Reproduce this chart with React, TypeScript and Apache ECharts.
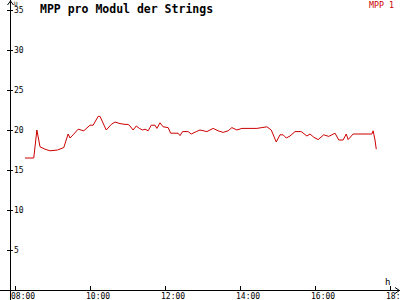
import React, { useEffect, useRef } from "react";
import * as echarts from "echarts";

const times: string[] = [
  "08:16", "08:30", "08:35", "08:40", "08:48", "08:56", "09:08", "09:18", "09:25", "09:28",
  "09:33", "09:41", "09:50", "10:00", "10:05", "10:13", "10:16", "10:26", "10:34", "10:40",
  "10:48", "10:56", "11:01", "11:04", "11:09", "11:14", "11:19", "11:24", "11:28", "11:33",
  "11:38", "11:44", "11:47", "11:52", "11:57", "12:05", "12:09", "12:21", "12:24", "12:28",
  "12:37", "12:42", "12:50", "12:56", "13:07", "13:17", "13:25", "13:33", "13:41", "13:47",
  "13:55", "14:03", "14:27", "14:35", "14:43", "14:50", "14:58", "15:04", "15:09", "15:14",
  "15:20", "15:28", "15:38", "15:47", "15:52", "15:58", "16:05", "16:14", "16:22", "16:32",
  "16:38", "16:45", "16:50", "16:53", "17:01", "17:31", "17:33", "17:36", "17:38",
];
const mpp1: number[] = [
  16.5, 16.5, 20.0, 17.9, 17.6, 17.4, 17.5, 17.8, 19.5, 19.0,
  19.4, 20.1, 19.9, 20.6, 20.6, 21.7, 21.7, 20.0, 20.7, 21.0,
  20.8, 20.7, 20.7, 20.5, 20.0, 20.5, 20.2, 20.0, 20.1, 19.9,
  20.6, 20.6, 20.2, 20.9, 20.4, 20.3, 19.6, 19.6, 19.3, 19.8,
  19.8, 19.5, 19.8, 20.0, 19.8, 20.2, 19.9, 19.7, 19.9, 20.3,
  20.0, 20.2, 20.2, 20.3, 20.4, 20.0, 18.5, 19.4, 19.4, 19.0,
  19.25, 19.8, 19.8, 19.25, 19.5, 19.1, 18.8, 19.4, 19.2, 19.6,
  18.75, 18.75, 19.5, 18.8, 19.5, 19.5, 19.9, 18.75, 17.6,
];
const seriesName = "MPP 1";
const titleText = "MPP pro Modul der Strings";
const yUnit = "U";
const xUnit = "h";

const toMin = (t: string) => {
  const [h, m] = t.split(":").map(Number);
  return h * 60 + m;
};
const fmt = (v: number) => {
  const h = Math.floor(v / 60);
  const m = v % 60;
  return String(h).padStart(2, "0") + ":" + String(m).padStart(2, "0");
};

const FONT = "DejaVu Sans Mono";

export default function App() {
  const ref = useRef<HTMLDivElement>(null);
  useEffect(() => {
    if (!ref.current) return;
    const chart = echarts.init(ref.current, undefined, { renderer: "svg" });
    const yBase = {
      type: "value" as const,
      min: 0,
      max: 35,
      interval: 5,
      offset: 5,
      axisLine: { show: false },
      splitLine: { show: false },
    };
    chart.setOption({
      animation: false,
      backgroundColor: "#ffffff",
      title: {
        text: titleText,
        left: 40,
        top: 3,
        padding: 0,
        textStyle: { fontFamily: FONT, fontSize: 11.5, fontWeight: "bold", color: "#000" },
      },
      legend: {
        right: 6,
        top: 1,
        padding: 0,
        icon: "none",
        itemWidth: 0,
        itemHeight: 0,
        itemGap: 0,
        textStyle: { fontFamily: FONT, fontSize: 8.3, color: "#cc0000" },
        data: [seriesName],
      },
      grid: {
        left: 15,
        right: 10,
        top: 10,
        bottom: 10,
        containLabel: false,
        outerBoundsMode: "none",
      },
      xAxis: {
        type: "value",
        min: 480,
        max: 1080,
        interval: 120,
        axisLine: { show: false },
        splitLine: { show: false },
        axisTick: { show: true, inside: true, length: 4, lineStyle: { color: "#000" } },
        axisLabel: {
          formatter: (v: number) => fmt(v),
          fontFamily: FONT,
          fontSize: 8,
          color: "#000",
          align: "left",
          margin: 2,
          padding: [0, 0, 0, -4],
          showMaxLabel: true,
          hideOverlap: false,
        },
      },
      yAxis: [
        {
          ...yBase,
          axisTick: { show: true, inside: false, length: 3, lineStyle: { color: "#000" } },
          axisLabel: {
            inside: true,
            margin: 4,
            fontFamily: FONT,
            fontSize: 8,
            color: "#000",
            formatter: (v: number) => (v === 0 ? "" : String(v)),
          },
        },
        {
          ...yBase,
          position: "left",
          axisTick: { show: true, inside: true, length: 3, lineStyle: { color: "#000" } },
          axisLabel: { show: false },
        },
      ],
      graphic: [
        { type: "line", shape: { x1: 10.5, y1: 0, x2: 10.5, y2: 300 }, style: { stroke: "#000", lineWidth: 1 } },
        { type: "polyline", shape: { points: [[7.5, 5], [10.5, 1], [13.5, 5]] }, style: { stroke: "#000", lineWidth: 1, fill: "none" } },
        { type: "line", shape: { x1: 0, y1: 290.5, x2: 400, y2: 290.5 }, style: { stroke: "#000", lineWidth: 1 } },
        { type: "polyline", shape: { points: [[395, 287.5], [399.5, 290.5], [395, 293.5]] }, style: { stroke: "#000", lineWidth: 1, fill: "none" } },
        { type: "text", x: 14, y: 0, style: { text: yUnit, fontFamily: FONT, fontSize: 6, fill: "#000" } },
        { type: "text", x: 385, y: 277, style: { text: xUnit, fontFamily: FONT, fontSize: 9, fill: "#000" } },
      ],
      series: [
        {
          name: seriesName,
          type: "line",
          symbol: "none",
          lineStyle: { color: "#cc0000", width: 1 },
          itemStyle: { color: "#cc0000" },
          data: times.map((t, i) => [toMin(t), mpp1[i]]),
        },
      ],
    });
    return () => chart.dispose();
  }, []);
  return (
    <div
      ref={ref}
      style={{ position: "fixed", left: 0, top: 0, width: 400, height: 300, background: "#fff" }}
    />
  );
}
